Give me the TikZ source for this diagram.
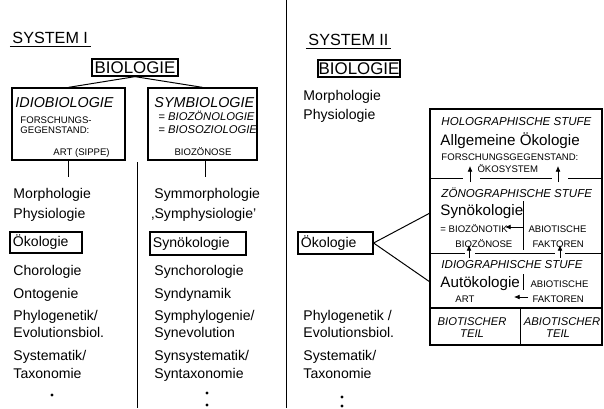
\documentclass[tikz,border=0pt]{standalone}
\usepackage{fontspec}
\setmainfont{Liberation Sans}
\usetikzlibrary{arrows.meta}

\begin{document}
\begin{tikzpicture}[x=0.025cm, y=-0.025cm, line width=0.7pt, >={Latex[length=4pt,width=3.4pt]}]
	\tikzset{item/.style={anchor=base west, inner sep=0pt, font=\fontsize{10}{12}\selectfont},
		sys/.style={anchor=base west, inner sep=0pt, font=\fontsize{11.5}{13}\selectfont},
		title/.style={draw, line width=0.9pt, inner sep=0pt, minimum height=0.425cm, font=\fontsize{12}{14}\selectfont},
		field/.style={draw, line width=0.9pt, inner sep=0pt},
		framed/.style={draw, line width=0.8pt, inner xsep=0.075cm, inner ysep=0pt, align=left, font=\fontsize{10}{12}\selectfont},
		boxhead/.style={anchor=base west, inner sep=0pt, font=\itshape\fontsize{10.2}{12}\selectfont},
		syn/.style={anchor=base west, inner sep=0pt, font=\itshape\fontsize{8}{10}\selectfont},
		tiny/.style={anchor=base west, inner sep=0pt, font=\fontsize{6.8}{8}\selectfont},
		stufe/.style={anchor=base west, inner sep=0pt, font=\itshape\fontsize{8.2}{10}\selectfont},
		big/.style={anchor=base west, inner sep=0pt, font=\fontsize{10.8}{13}\selectfont},
		teil/.style={anchor=base, inner sep=0pt, font=\itshape\fontsize{8}{10}\selectfont},
		dot/.style={circle, fill, inner sep=0pt, minimum size=2.2pt}}
	\useasboundingbox (0,0) rectangle (604,408);
	% System I
	\node[sys] (s1) at (12,43) {SYSTEM I};
	\draw ([xshift=-1.5pt,yshift=-2.3pt]s1.base west) -- ([xshift=1.5pt,yshift=-2.3pt]s1.base east);
	\node[title, minimum width=2.15cm] (b1) at (135,67.5) {BIOLOGIE};
	\node[field, minimum width=2.825cm, minimum height=1.8cm] (idio) at (68.5,124) {};
	\node[field, minimum width=2.725cm, minimum height=1.8cm] (symb) at (202.5,124) {};
	\draw (b1.south) -- (idio.north);
	\draw (b1.south) -- (symb.north);
	\node[boxhead] (idioh) at (15,107) {IDIOBIOLOGIE};
	\node[tiny] (fg1) at (20,123) {FORSCHUNGS-};
	\node[tiny] (fg2) at (20,133) {GEGENSTAND:};
	\node[tiny] (sippe) at (53,155) {ART (SIPPE)};
	\node[boxhead] (symbh) at (154,107) {SYMBIOLOGIE};
	\node[syn] (bzl) at (158,120) {= BIOZÖNOLOGIE};
	\node[syn] (bsl) at (158,133) {= BIOSOZIOLOGIE};
	\node[tiny, anchor=base] (bzn1) at (203,155) {BIOZÖNOSE};
	\coordinate (idioend) at (68.5,177);
	\coordinate (symbend) at (205,177);
	\draw (idio.south) -- (idioend);
	\draw (symbend |- symb.south) -- (symbend);
	% column lines
	\draw (137,162) -- (137,408);
	\draw (286,0) -- (286,408);
	% left column
	\node[item] (m1) at (13,198) {Morphologie};
	\node[item] (p1) at (13,218) {Physiologie};
	\node[framed, text width=1.65cm, minimum height=0.525cm] (oek1) at (46,242.5) {Ökologie};
	\node[item] (c1) at (13,275) {Chorologie};
	\node[item] (o1) at (13,298) {Ontogenie};
	\node[item] (ph1) at (13,320) {Phylogenetik/};
	\node[item] (ev1) at (13,337) {Evolutionsbiol.};
	\node[item] (sy1) at (13,360) {Systematik/};
	\node[item] (ta1) at (13,378) {Taxonomie};
	\node[dot] (d1) at (52,395) {};
	% middle column
	\node[item] (m2) at (154,198) {Symmorphologie};
	\node[item] (p2) at (151,218) {‚Symphysiologie’};
	\node[framed, text width=2.25cm, minimum height=0.575cm] (syn1) at (198,243.5) {Synökologie};
	\node[item] (c2) at (154,275) {Synchorologie};
	\node[item] (o2) at (154,298) {Syndynamik};
	\node[item] (ph2) at (154,320) {Symphylogenie/};
	\node[item] (ev2) at (154,337) {Synevolution};
	\node[item] (sy2) at (154,360) {Synsystematik/};
	\node[item] (ta2) at (154,378) {Syntaxonomie};
	\node[dot] (d2) at (207,393) {};
	\node[dot] (d3) at (207,405) {};
	% System II
	\node[sys] (s2) at (308,45) {SYSTEM II};
	\draw ([xshift=-1.5pt,yshift=-2.3pt]s2.base west) -- ([xshift=1.5pt,yshift=-2.3pt]s2.base east);
	\node[title, minimum width=2.05cm] (b2) at (359,68.5) {BIOLOGIE};
	\node[item] (m3) at (303,100) {Morphologie};
	\node[item] (p3) at (303,119) {Physiologie};
	\node[framed, text width=1.725cm, minimum height=0.55cm] (oek2) at (335.5,243) {Ökologie};
	\node[item] (ph3) at (303,320) {Phylogenetik /};
	\node[item] (ev3) at (303,337) {Evolutionsbiol.};
	\node[item] (sy3) at (303,360) {Systematik/};
	\node[item] (ta3) at (303,378) {Taxonomie};
	\node[dot] (d4) at (342,397) {};
	\node[dot] (d5) at (342,406) {};
	% stufen box
	\draw[line width=1pt] (430,109) rectangle (602,345);
	\coordinate (synin) at (430,213);
	\coordinate (autin) at (430,282);
	\draw (oek2.east) -- (synin);
	\draw (oek2.east) -- (autin);
	\node[stufe] (holo) at (441,125) {HOLOGRAPHISCHE STUFE};
	\node[big] (allg) at (440,145) {Allgemeine Ökologie};
	\node[tiny] (fg3) at (441,160) {FORSCHUNGSGEGENSTAND:};
	\node[tiny] (okos) at (477,172) {ÖKOSYSTEM};
	\draw[line width=0.5pt] (430,178) -- (463,178) (480,178) -- (552,178) (568,178) -- (602,178);
	\coordinate (u1) at (470,182); \coordinate (v1) at (470,166);
	\coordinate (u2) at (558,182); \coordinate (v2) at (558,166);
	\draw[->, line width=0.5pt] (u1) -- (v1);
	\draw[->, line width=0.5pt] (u2) -- (v2);
	\node[stufe] (zoeno) at (441,197) {ZÖNOGRAPHISCHE STUFE};
	\node[big] (synoek) at (440,215) {Synökologie};
	\draw[line width=0.5pt] (523,201) -- (523,250);
	\node[tiny] (bzt) at (440,232) {= BIOZÖNOTIK};
	\node[tiny] (abio1) at (528,232) {ABIOTISCHE};
	\node[tiny] (bzn2) at (455,247) {BIOZÖNOSE};
	\node[tiny] (fak1) at (532,247) {FAKTOREN};
	\coordinate (w1) at (523,227); \coordinate (z1) at (505,227);
	\draw[->, line width=0.5pt] (w1) -- (z1);
	\draw[line width=0.5pt] (430,253) -- (465,253) (475,253) -- (555,253) (565,253) -- (602,253);
	\coordinate (u3) at (469,258); \coordinate (v3) at (469,245);
	\coordinate (u4) at (560,258); \coordinate (v4) at (560,245);
	\draw[->, line width=0.5pt] (u3) -- (v3);
	\draw[->, line width=0.5pt] (u4) -- (v4);
	\node[stufe] (idiogr) at (441,268) {IDIOGRAPHISCHE STUFE};
	\node[big] (autoek) at (440,287) {Autökologie};
	\draw[line width=0.5pt] (523,274) -- (523,290);
	\node[tiny] (abio2) at (530,287) {ABIOTISCHE};
	\node[tiny] (art2) at (455,302) {ART};
	\node[tiny] (fak2) at (532,302) {FAKTOREN};
	\coordinate (w2) at (528,297); \coordinate (z2) at (514,297);
	\draw[->, line width=0.5pt] (w2) -- (z2);
	\draw[line width=1pt] (430,308) -- (602,308);
	\draw[line width=0.7pt] (520,308) -- (520,345);
	\node[teil] (biot) at (472,325) {BIOTISCHER};
	\node[teil] (teil1) at (472,337) {TEIL};
	\node[teil] (abiot) at (562,325) {ABIOTISCHER};
	\node[teil] (teil2) at (558,337) {TEIL};
\end{tikzpicture}
\end{document}
